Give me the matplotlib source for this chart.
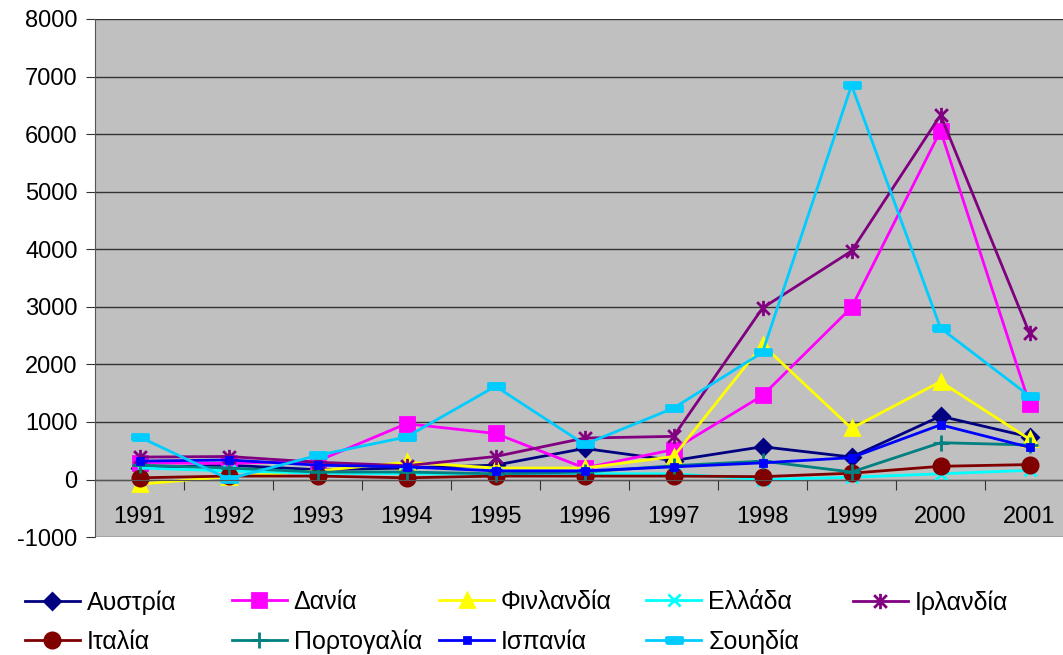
import matplotlib.pyplot as plt
import numpy as np
from matplotlib.path import Path

years = ['1991', '1992', '1993', '1994', '1995', '1996',
         '1997', '1998', '1999', '2000', '2001']

austria = [200, 250, 170, 200, 250, 540, 330, 570, 390, 1100, 740]
denmark = [290, 280, 320, 970, 800, 200, 520, 1460, 2990, 6060, 1310]
finland = [-80, 50, 150, 300, 200, 200, 400, 2340, 890, 1700, 700]
greece = [200, 150, 110, 100, 90, 100, 100, 0, 40, 100, 160]
ireland = [390, 400, 300, 240, 400, 720, 750, 2980, 3970, 6330, 2540]
italy = [30, 60, 60, 30, 60, 60, 60, 50, 110, 230, 260]
portugal = [250, 200, 130, 130, 100, 130, 240, 320, 130, 640, 600]
spain = [320, 340, 250, 220, 150, 150, 220, 290, 380, 950, 560]
sweden = [740, 10, 420, 740, 1620, 610, 1240, 2210, 6850, 2630, 1450]

star = Path([(-1, -1), (1, 1), (-1, 1), (1, -1), (0, -1.2), (0, 1.2)],
            [Path.MOVETO, Path.LINETO, Path.MOVETO, Path.LINETO,
             Path.MOVETO, Path.LINETO])
bar = [(-1, -0.45), (1, -0.45), (1, 0.45), (-1, 0.45), (-1, -0.45)]

series = [
    ('Αυστρία', austria, '#000080', 'D', 8),
    ('Δανία', denmark, '#FF00FF', 's', 10),
    ('Φινλανδία', finland, '#FFFF00', '^', 10),
    ('Ελλάδα', greece, '#00FFFF', 'x', 9),
    ('Ιρλανδία', ireland, '#800080', star, 11),
    ('Ιταλία', italy, '#800000', 'o', 11),
    ('Πορτογαλία', portugal, '#008080', '+', 11),
    ('Ισπανία', spain, '#0000FF', 's', 5),
    ('Σουηδία', sweden, '#00CCFF', bar, 11),
]

plt.rcParams['font.family'] = ['Liberation Sans', 'DejaVu Sans']
plt.rcParams['axes.unicode_minus'] = False

fig = plt.figure(figsize=(10.63, 6.55), dpi=100)
ax = fig.add_axes([0.0894, 0.180, 0.921, 0.791])
ax.set_facecolor('#C0C0C0')

x = np.arange(len(years))
handles = []
for name, vals, color, marker, ms in series:
    line, = ax.plot(x, vals, color=color, lw=2, marker=marker, ms=ms,
                    mfc=color, mec=color, mew=2, label=name, clip_on=False)
    handles.append(line)

ax.set_ylim(-1000, 8000)
ax.set_xlim(-0.5, len(years) - 0.5)
ax.set_yticks(np.arange(-1000, 8001, 1000))
ax.yaxis.grid(True, color='#333333', lw=1)
ax.set_axisbelow(True)

# category axis sits on the zero line, ticks between categories
ax.spines['bottom'].set_position(('data', 0))
ax.spines['bottom'].set_color('#555555')
ax.spines['top'].set_visible(False)
ax.spines['right'].set_visible(False)
ax.spines['left'].set_color('#555555')
ax.set_xticks(x[:-1] + 0.5)
ax.set_xticklabels([])
ax.set_xticks(x, minor=True)
ax.set_xticklabels(years, minor=True)
ax.tick_params(axis='x', which='major', length=7, direction='out', color='#333333')
ax.tick_params(axis='x', which='minor', length=0, pad=19, labelsize=17)
ax.tick_params(axis='y', length=6.5, pad=6, labelsize=17, color='#333333')

# legend laid out as fixed-width columns, two rows
col_x = [0.0235, 0.218, 0.413, 0.608, 0.802]
for i, cx in enumerate(col_x):
    hs = handles[i::5]
    fig.legend(handles=hs, labels=[h.get_label() for h in hs],
               loc='upper left', bbox_to_anchor=(cx, 0.099),
               frameon=False, fontsize=18, handlelength=2.2,
               handletextpad=0.28, labelspacing=0.62, borderpad=0,
               borderaxespad=0)

fig.savefig('out.png', dpi=100)
